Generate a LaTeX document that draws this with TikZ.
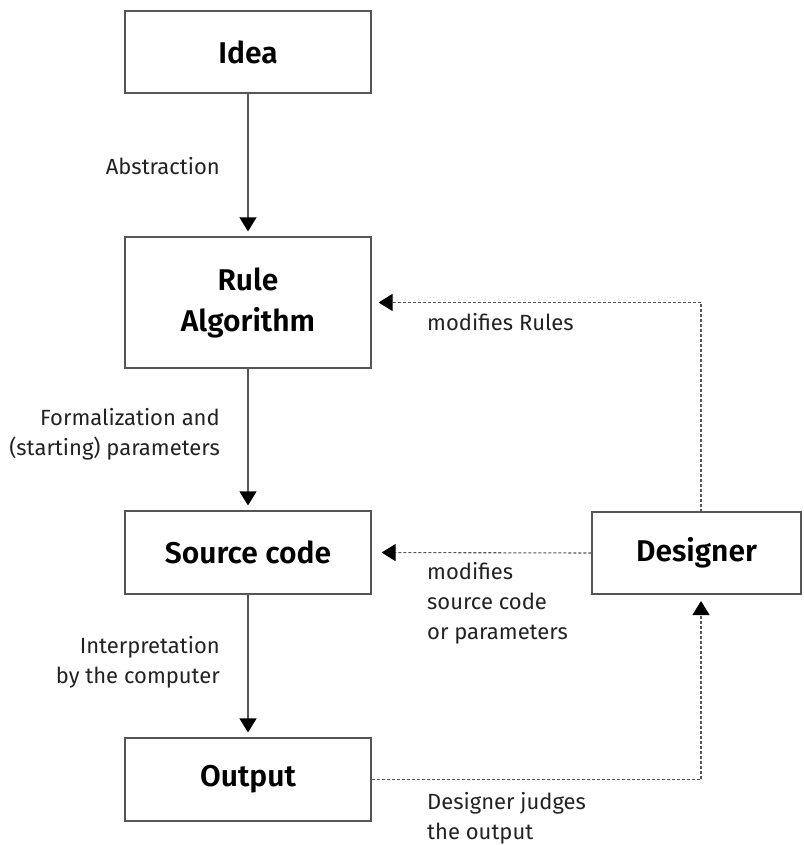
\documentclass[tikz,border=0pt]{standalone}
\usepackage{fontspec}
\setmainfont{Fira Sans}
\newfontfamily\titlefont{Fira Sans SemiBold}
\usetikzlibrary{arrows.meta}
\definecolor{linegray}{HTML}{555555}
\definecolor{textgray}{HTML}{222222}
\begin{document}
\begin{tikzpicture}[x=1pt,y=-1pt,
  box/.style={draw=linegray, line width=1.2pt, fill=white, inner sep=0pt,
    minimum width=246pt, minimum height=82pt, align=center,
    font=\titlefont\fontsize{30}{41}\selectfont},
  lbl/.style={inner sep=0pt, text=textgray, font=\fontsize{22}{30}\selectfont},
  lblR/.style={lbl, anchor=east, align=right},
  lblL/.style={lbl, anchor=west, align=left},
  tip/.tip={Triangle[width=17pt,length=14pt,color=black]},
  solidarrow/.style={draw=linegray, line width=1.2pt, -tip, shorten >=5pt},
  dotarrow/.style={draw=linegray, line width=1.1pt, dash pattern=on 3pt off 2pt, -tip}
]
\useasboundingbox (0,0) rectangle (803,845);
\node[box] (idea) at (248,52) {Idea};
\node[box, minimum height=131pt] (rule) at (248,302.5) {Rule\\Algorithm};
\node[box, minimum height=83pt] (src) at (248,552.5) {Source code};
\node[box, minimum height=83pt] (out) at (248,779.5) {Output};
\node[box, minimum width=209pt] (des) at (696.5,553) {Designer};

\draw[solidarrow] (idea.south) -- (rule.north);
\draw[solidarrow] (rule.south) -- (src.north);
\draw[solidarrow] (src.south) -- (out.north);

\coordinate (dtop) at (701,512);
\coordinate (dbot) at (701,594);
\draw[dotarrow, shorten >=7pt] (dtop) |- (rule.east);
\draw[dotarrow, shorten >=10pt] (des.west) -- (src.east);
\draw[dotarrow, shorten >=7pt] (out.east) -| (dbot);

\node[lblR] (l1) at (220,166) {Abstraction};
\node[lblR] (l2) at (220,434.5) {Formalization and\\(starting) parameters};
\node[lblR] (l3) at (220,662) {Interpretation\\by the computer};
\node[lblL] (l4) at (427,322) {modifies Rules};
\node[lblL] (l5) at (427,603) {modifies\\source code\\or parameters};
\node[lblL] (l6) at (427,818) {Designer judges\\the output};
\end{tikzpicture}
\end{document}
